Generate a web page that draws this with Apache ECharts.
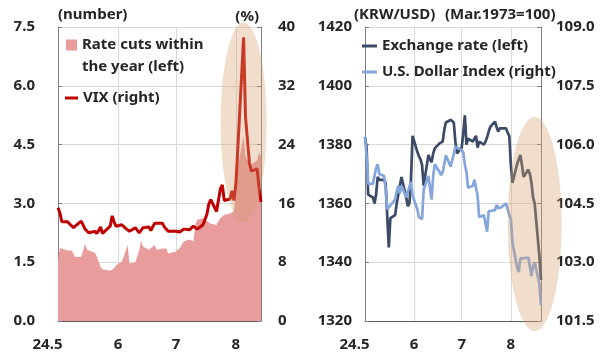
<!DOCTYPE html>
<html>
<head>
<meta charset="utf-8">
<script src="https://cdn.jsdelivr.net/npm/echarts@6/dist/echarts.min.js"></script>
<style>
  html, body { margin: 0; padding: 0; background: #fff; }
  #chart { width: 606px; height: 360px; }
</style>
</head>
<body>
<div id="chart"></div>
<script>
// ---- Left panel: US trading days, May 1 - Aug 14, 2024 ----
const leftDays = [
  [5, [1,2,3,6,7,8,9,10,13,14,15,16,17,20,21,22,23,24,28,29,30,31]],
  [6, [3,4,5,6,7,10,11,12,13,14,17,18,20,21,24,25,26,27,28]],
  [7, [1,2,3,5,8,9,10,11,12,15,16,17,18,19,22,23,24,25,26,29,30,31]],
  [8, [1,2,5,6,7,8,9,12,13,14]]
];
// Number of 25bp rate cuts priced in for the year (left axis)
const rateCuts = [
  1.56,1.86,1.82,1.80,1.78,1.80,1.84,1.63,1.64,1.68,1.97,1.82,1.78,1.74,1.66,1.52,1.38,1.32,1.28,1.25,1.34,1.42,
  1.52,1.64,1.80,1.94,1.47,1.50,1.55,1.80,2.05,1.90,1.82,1.85,1.94,1.82,1.85,1.86,1.85,1.72,1.76,
  1.77,1.78,1.86,2.03,2.08,2.10,2.03,2.45,2.58,2.62,2.60,2.55,2.50,2.48,2.45,2.55,2.62,2.66,2.71,2.74,2.77,2.80,
  2.84,3.95,4.72,4.20,4.10,4.05,4.00,4.10,4.30,4.20
];
// VIX, % (right axis)
const vix = [
  15.4,14.7,13.5,13.5,13.2,13.0,12.7,12.6,13.6,13.4,12.5,12.4,12.0,12.2,11.9,12.3,12.8,11.9,12.9,14.3,13.5,12.9,
  13.1,13.2,12.6,12.6,12.2,12.7,12.9,12.0,11.9,12.7,12.8,12.3,13.3,13.2,13.3,12.8,12.6,12.2,12.4,
  12.2,12.0,12.1,12.5,12.4,12.5,12.9,12.9,12.5,13.1,13.2,14.5,15.9,16.5,14.9,14.7,18.0,18.5,16.4,16.6,17.7,16.4,
  18.6,23.4,38.6,27.7,27.9,21.5,20.4,20.7,18.1,16.2
];

// ---- Right panel: weekdays, May 1 - Aug 20, 2024 ----
const rightDays = [
  [5, [1,2,3,6,7,8,9,10,13,14,15,16,17,20,21,22,23,24,27,28,29,30,31]],
  [6, [3,4,5,6,7,10,11,12,13,14,17,18,19,20,21,24,25,26,27,28]],
  [7, [1,2,3,4,5,8,9,10,11,12,15,16,17,18,19,22,23,24,25,26,29,30,31]],
  [8, [1,2,5,6,7,8,9,12,13,14,15,16,19,20]]
];
// KRW per USD (left axis)
const krwUsd = [
  1382.5,1379,1363,1362,1360,1363,1369,1368,1368,1367,1356,1345,1355,1356,1360,1363,1366,1369,1362,1359,1360,1368,1383,
  1377.6,1376,1375,1373,1366,1376.5,1375,1374,1377,1378.7,1380.4,1381,1381,1385,1387.5,1388.4,1388,1387.5,1381,1377,
  1379,1384,1390,1380,1382,1381,1382,1383,1379,1381,1380,1381,1382.5,1384.4,1386,1387.8,1386,1384.4,1385.5,1385,1385.5,1384,1383,
  1373,1367,1373.5,1375,1376.5,1373,1369,1371.5,1370,1367,1362,1360,1342,1334
];
// U.S. Dollar Index, Mar.1973=100 (right axis)
const dollarIndex = [
  106.2,105.7,105.0,105.0,105.05,105.4,105.5,105.25,105.2,104.9,104.35,104.4,104.45,104.6,104.8,104.95,104.75,104.95,104.65,104.8,104.85,105.05,104.7,
  104.35,104.15,104.1,104.1,104.85,105.2,105.25,104.6,105.2,105.5,105.3,105.22,105.3,105.5,105.73,105.44,105.6,105.75,105.95,105.9,
  105.86,105.8,105.48,105.3,104.9,104.95,105.1,105.15,104.7,104.15,104.2,104.15,103.78,104.3,104.3,104.33,104.46,104.38,104.35,104.4,104.5,104.54,104.2,
  104.1,103.5,102.85,102.75,103.1,103.15,103.1,103.12,103.1,102.65,102.9,103.0,102.45,101.9
];

// ---- Axis ticks and labels ----
const monthStarts = [[5, 1], [6, 1], [7, 1], [8, 1]];
const monthLabels = ['24.5', '6', '7', '8'];
const cutsTicks = [0, 1.5, 3.0, 4.5, 6.0, 7.5];
const vixTicks = [0, 8, 16, 24, 32, 40];
const krwTicks = [1320, 1340, 1360, 1380, 1400, 1420];
const dxyTicks = [101.5, 103.0, 104.5, 106.0, 107.5, 109.0];

const day = (m, d) => Date.UTC(2024, m - 1, d);
function toDates(groups) {
  const out = [];
  groups.forEach(([m, days]) => days.forEach(d => out.push(day(m, d))));
  return out;
}
const leftDates = toDates(leftDays);
const rightDates = toDates(rightDays);
const monthTicks = monthStarts.map(([m, d]) => day(m, d));
const zip = (dates, vals) => dates.map((d, i) => [d, vals[i]]);

const FONT = "'Noto Sans', sans-serif";
const TXT = '#262626';
const AXIS_LINE = '#7f7f7f';
const GRID_LINE = '#d9d9d9';

function xAxisCfg(gridIndex, maxDate) {
  return {
    type: 'value', gridIndex,
    min: day(5, 1), max: maxDate,
    axisLine: { show: true, onZero: false, lineStyle: { color: '#595959', width: 1 } },
    axisTick: { show: false, customValues: monthTicks },
    splitLine: { show: true, lineStyle: { color: GRID_LINE, width: 1 } },
    axisLabel: {
      customValues: monthTicks,
      margin: 16, fontSize: 15, fontWeight: 'bold', fontFamily: FONT, color: TXT,
      formatter: v => {
        const i = monthTicks.indexOf(v);
        const t = i >= 0 ? monthLabels[i] : '';
        return i === 0 ? '{first|' + t + '}' : t;
      },
      rich: { first: { padding: [0, 21, 0, 0], fontSize: 15, fontWeight: 'bold', fontFamily: FONT, color: TXT } }
    }
  };
}

function yAxisCfg(gridIndex, position, ticks, decimals, margin, showSplit) {
  return {
    type: 'value', gridIndex, position,
    min: ticks[0], max: ticks[ticks.length - 1],
    axisLine: { show: true, lineStyle: { color: AXIS_LINE, width: 1 } },
    axisTick: { show: true, inside: true, length: 4, customValues: ticks, lineStyle: { color: AXIS_LINE } },
    splitLine: { show: showSplit, lineStyle: { color: GRID_LINE, width: 1 } },
    axisLabel: {
      customValues: ticks,
      margin, fontSize: 15, fontWeight: 'bold', fontFamily: FONT, color: TXT,
      formatter: v => v.toFixed(decimals)
    }
  };
}

const legendText = { fontSize: 15, fontWeight: 'bold', fontFamily: FONT, color: TXT };
// Square swatch sitting at the top of a tall icon box, so it lines up with the first text line
const topSquareIcon = 'path://M0,0H11V11H0Z M0,33H0.01';

const chart = echarts.init(document.getElementById('chart'));
chart.setOption({
  animation: false,
  backgroundColor: '#fff',
  grid: [
    { left: 58, top: 27, width: 203, height: 294 },
    { left: 365, top: 27, width: 176, height: 294 }
  ],
  xAxis: [xAxisCfg(0, day(8, 14)), xAxisCfg(1, day(8, 20))],
  yAxis: [
    yAxisCfg(0, 'left', cutsTicks, 1, 23, true),
    yAxisCfg(0, 'right', vixTicks, 0, 17, false),
    yAxisCfg(1, 'left', krwTicks, 0, 13, true),
    yAxisCfg(1, 'right', dxyTicks, 1, 15, false)
  ],
  legend: [
    {
      left: 66, top: 34, padding: 0, itemWidth: 11, itemHeight: 33,
      data: [{ name: 'Rate cuts within the year (left)', icon: topSquareIcon }],
      formatter: () => 'Rate cuts within\nthe year (left)',
      textStyle: Object.assign({ lineHeight: 22 }, legendText),
      itemGap: 0
    },
    {
      left: 65, top: 89, padding: 0, itemWidth: 13, itemHeight: 3,
      data: [{ name: 'VIX (right)', icon: 'rect' }],
      textStyle: Object.assign({ lineHeight: 18 }, legendText)
    },
    {
      left: 362, top: 37, padding: 0, orient: 'vertical', itemWidth: 15, itemHeight: 3, itemGap: 8,
      data: [{ name: 'Exchange rate (left)', icon: 'rect' }, { name: 'U.S. Dollar Index (right)', icon: 'rect' }],
      textStyle: Object.assign({ lineHeight: 18 }, legendText)
    }
  ],
  series: [
    {
      name: 'Rate cuts within the year (left)', type: 'line', xAxisIndex: 0, yAxisIndex: 0,
      data: zip(leftDates, rateCuts), symbol: 'none', z: 1,
      itemStyle: { color: '#e89c9c' },
      lineStyle: { width: 0 },
      areaStyle: { color: '#e89c9c', opacity: 1 }
    },
    {
      name: 'VIX (right)', type: 'line', xAxisIndex: 0, yAxisIndex: 1,
      data: zip(leftDates, vix), symbol: 'none', z: 3,
      itemStyle: { color: '#c00000' },
      lineStyle: { color: '#c00000', width: 3 }
    },
    {
      name: 'Exchange rate (left)', type: 'line', xAxisIndex: 1, yAxisIndex: 2,
      data: zip(rightDates, krwUsd), symbol: 'none', z: 3,
      itemStyle: { color: '#3b4a66' },
      lineStyle: { color: '#3b4a66', width: 2.7 }
    },
    {
      name: 'U.S. Dollar Index (right)', type: 'line', xAxisIndex: 1, yAxisIndex: 3,
      data: zip(rightDates, dollarIndex), symbol: 'none', z: 4,
      itemStyle: { color: '#84a6dc' },
      lineStyle: { color: '#84a6dc', width: 2.7 }
    }
  ],
  graphic: [
    { id: 'u1', type: 'text', left: 58, top: 7, style: { text: '(number)', fill: TXT, font: "bold 15px 'Noto Sans'" } },
    { id: 'u2', type: 'text', right: 606 - 259, top: 9, style: { text: '(%)', fill: TXT, font: "bold 15px 'Noto Sans'" } },
    { id: 'u3', type: 'text', left: 354, top: 7, style: { text: '(KRW/USD)', fill: TXT, font: "bold 15px 'Noto Sans'" } },
    { id: 'u4', type: 'text', left: 445, top: 7, style: { text: '(Mar.1973=100)', fill: TXT, font: "bold 15px 'Noto Sans'" } }
  ]
});

// Highlight ellipses around the August turmoil, centred on data coordinates
const hlFill = 'rgba(214,160,110,0.36)';
const c1 = chart.convertToPixel({ xAxisIndex: 0, yAxisIndex: 1 }, [day(8, 5), 27]);
const c2 = chart.convertToPixel({ xAxisIndex: 1, yAxisIndex: 2 }, [day(8, 16), 1353]);
chart.setOption({
  graphic: [
    { id: 'h1', type: 'ellipse', z: 100, silent: true, shape: { cx: c1[0], cy: c1[1], rx: 23, ry: 100 }, style: { fill: hlFill } },
    { id: 'h2', type: 'ellipse', z: 100, silent: true, shape: { cx: c2[0], cy: c2[1], rx: 27, ry: 107 }, style: { fill: hlFill } }
  ]
});
</script>
</body>
</html>
